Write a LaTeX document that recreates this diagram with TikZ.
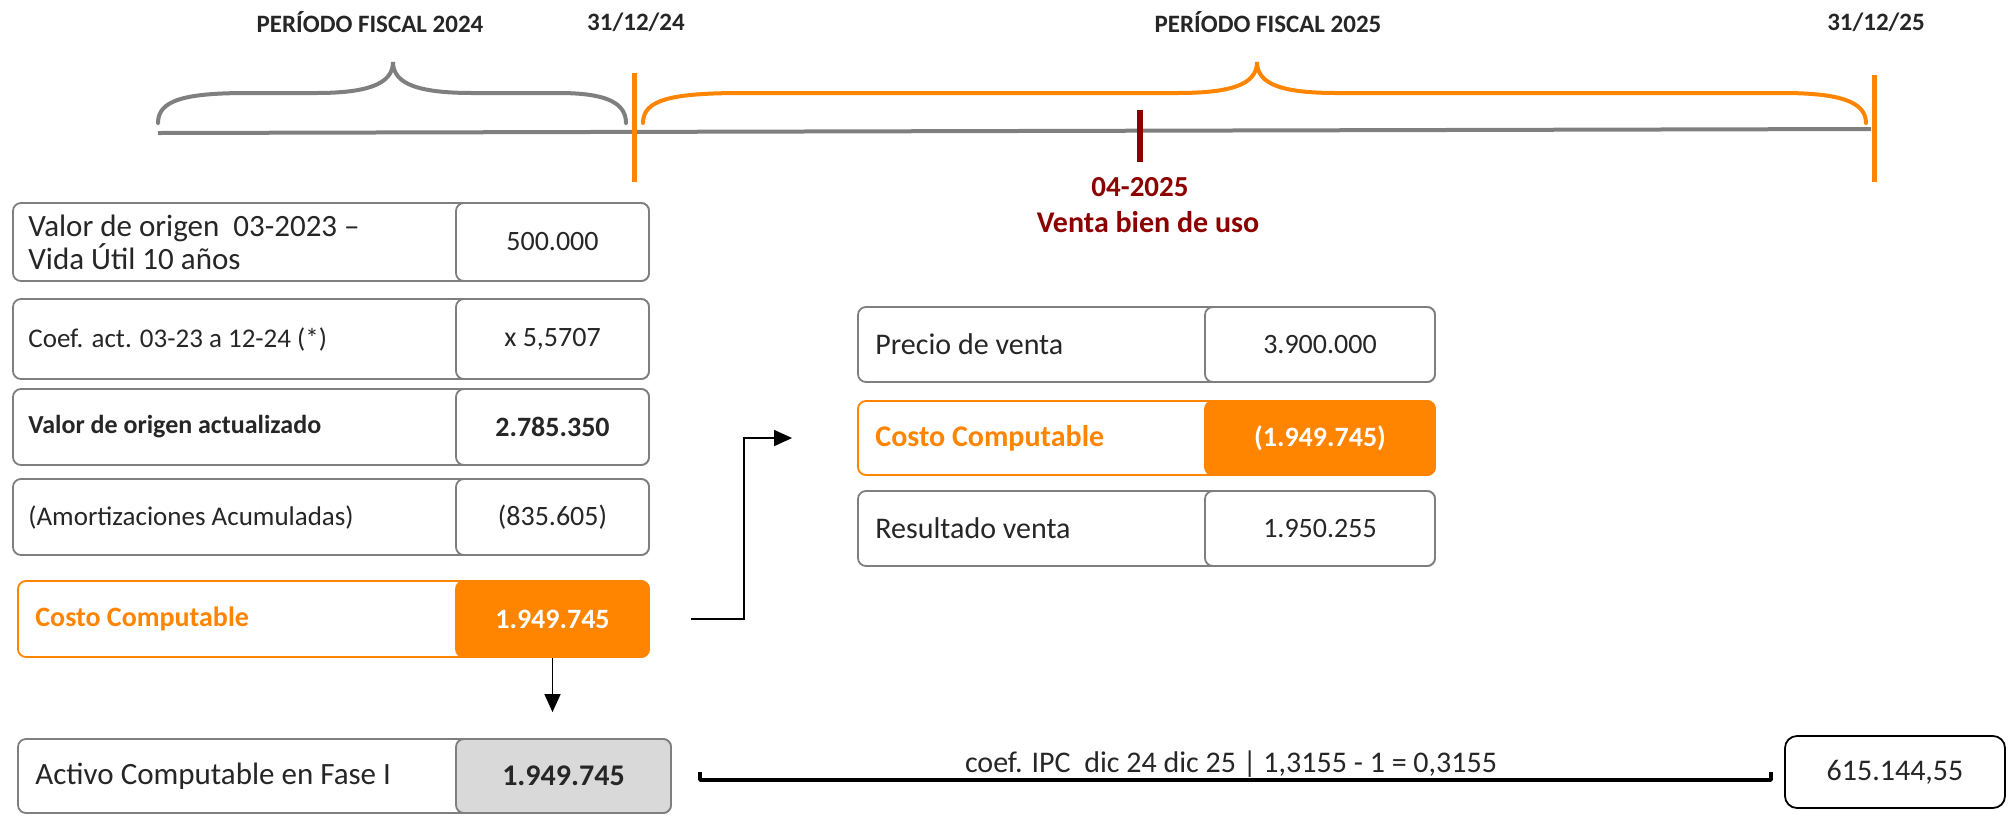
\documentclass[tikz,border=0pt]{standalone}
\usepackage{fontspec}
\setmainfont{Carlito}
\usetikzlibrary{fit,arrows.meta}
\definecolor{orng}{RGB}{255,132,0}
\definecolor{dred}{RGB}{140,0,0}
\definecolor{lgray}{RGB}{127,127,127}
\definecolor{txt}{RGB}{38,38,38}
\definecolor{fillg}{RGB}{217,217,217}
\begin{document}
\begin{tikzpicture}[x=0.5pt,y=-0.5pt,
 box/.style={draw=lgray, line width=0.9pt, rounded corners=4pt, inner sep=0pt, fill=white},
 obox/.style={draw=orng, line width=0.9pt, rounded corners=4pt, inner sep=0pt},
 ofill/.style={fill=orng, draw=orng, line width=0.9pt, rounded corners=4pt, inner sep=0pt},
 gfill/.style={fill=fillg, draw=lgray, line width=0.9pt, rounded corners=4pt, inner sep=0pt},
 rbox/.style={draw=black, line width=0.9pt, rounded corners=6pt, inner sep=0pt},
 lbl/.style={anchor=west, text=txt, font=\fontsize{15}{16.5}\selectfont, align=left, inner sep=0pt},
 slbl/.style={anchor=west, text=txt, font=\fontsize{13.5}{16}\selectfont, inner sep=0pt},
 val/.style={text=txt, font=\fontsize{14}{17}\selectfont, inner sep=0pt},
 hdr/.style={text=txt, font=\fontsize{12.5}{15}\selectfont\bfseries, inner sep=0pt},
 red/.style={text=dred, font=\fontsize{15}{18}\selectfont\bfseries, inner sep=0pt},
 arr/.style={draw=black, line width=0.7pt, -{Triangle[length=9pt,width=8pt]}},
 bar/.style={draw=orng, line width=2.5pt},
 brk/.style={draw=black, line width=1.8pt, line join=round},
]
\useasboundingbox (0,0) rectangle (2015,816);

% ---- timeline ----
\node[hdr] (h1) at (370,22) {PERÍODO FISCAL 2024};
\node[hdr] (h2) at (636,22) {31/12/24};
\node[hdr] (h3) at (1268,22) {PERÍODO FISCAL 2025};
\node[hdr] (h4) at (1876,22) {31/12/25};

\draw[lgray, line width=2pt] (158,133) -- (1871,129);
\draw[lgray, line width=2pt, line cap=round]
  (158,123) .. controls (158,100) and (185,93) .. (248,93) -- (316,93)
  .. controls (365,93) and (393,85) .. (393,62)
  .. controls (393,85) and (421,93) .. (473,93) -- (558,93)
  .. controls (600,93) and (626,100) .. (626,123);
\draw[orng, line width=2pt, line cap=round]
  (643,123) .. controls (643,100) and (670,93) .. (743,93) -- (1177,93)
  .. controls (1230,93) and (1257,85) .. (1257,62)
  .. controls (1257,85) and (1284,93) .. (1337,93) -- (1782,93)
  .. controls (1835,93) and (1866,100) .. (1866,123);
\draw[bar] (634,73) -- (634,182);
\draw[bar] (1874,75) -- (1874,182);
\draw[dred, line width=3pt] (1140,110) -- (1140,162);
\node[red, font=\fontsize{14.5}{17}\selectfont\bfseries] (d1) at (1140,187) {04-2025};
\node[red] (d2) at (1148,222) {Venta bien de uso};

% ---- left column ----
\node[box, fit={(13,203) (649,281)}] (b1) {};
\node[box, fit={(456,203) (649,281)}] (b1v) {};
\node[lbl, font=\fontsize{15.5}{16.5}\selectfont] (b1t) at (28,242) {Valor de origen\ \ 03-2023 –\\Vida Útil 10 años};
\node[val] (b1n) at (b1v) {500.000};

\node[box, fit={(13,299) (649,379)}] (b2) {};
\node[box, fit={(456,299) (649,379)}] (b2v) {};
\node[slbl] (b2t) at (28,339) {Coef. act. 03-23 a 12-24 (*)};
\node[val] (b2n) at (b2v) {x 5,5707};

\node[box, fit={(13,389) (649,465)}] (b3) {};
\node[box, fit={(456,389) (649,465)}] (b3v) {};
\node[slbl, font=\fontsize{13}{16}\selectfont\bfseries] (b3t) at (28,427) {Valor de origen actualizado};
\node[val, font=\fontsize{14}{17}\selectfont\bfseries] (b3n) at (b3v) {2.785.350};

\node[box, fit={(13,479) (649,555)}] (b4) {};
\node[box, fit={(456,479) (649,555)}] (b4v) {};
\node[slbl] (b4t) at (28,517) {(Amortizaciones Acumuladas)};
\node[val] (b4n) at (b4v) {(835.605)};

\node[obox, fit={(18,581) (649,657)}] (b5) {};
\node[ofill, fit={(456,581) (649,657)}] (b5v) {};
\node[slbl, text=orng, font=\fontsize{14}{17}\selectfont\bfseries] (b5t) at (35,619) {Costo Computable};
\node[val, text=white, font=\fontsize{14}{17}\selectfont\bfseries] (b5n) at (b5v) {1.949.745};

\node[box, fit={(18,739) (671,813)}] (b6) {};
\node[gfill, fit={(456,739) (671,813)}] (b6v) {};
\node[lbl, font=\fontsize{15.5}{18}\selectfont] (b6t) at (35,776) {Activo Computable en Fase I};
\node[val, font=\fontsize{15}{18}\selectfont\bfseries] (b6n) at (b6v) {1.949.745};

% ---- right column ----
\node[box, fit={(858,307) (1435,382)}] (r1) {};
\node[box, fit={(1205,307) (1435,382)}] (r1v) {};
\node[lbl] (r1t) at (875,344) {Precio de venta};
\node[val] (r1n) at (r1v) {3.900.000};

\node[obox, fit={(858,401) (1435,475)}] (r2) {};
\node[ofill, fit={(1205,401) (1435,475)}] (r2v) {};
\node[lbl, text=orng, font=\fontsize{15}{18}\selectfont\bfseries] (r2t) at (875,438) {Costo Computable};
\node[val, text=white, font=\fontsize{14}{17}\selectfont\bfseries] (r2n) at (r2v) {(1.949.745)};

\node[box, fit={(858,491) (1435,566)}] (r3) {};
\node[box, fit={(1205,491) (1435,566)}] (r3v) {};
\node[lbl] (r3t) at (875,528) {Resultado venta};
\node[val] (r3n) at (r3v) {1.950.255};

% ---- result ----
\node[rbox, fit={(1785,736) (2005,808)}] (res) {};
\node[val, font=\fontsize{15}{18}\selectfont] (resn) at (res) {615.144,55};

% ---- connectors ----
\draw[arr, shorten >=13pt] (b5v.south) -- (b5v.south |- b6v.north);
\draw[arr, shorten <=20.5pt, shorten >=32.5pt] (b5.east) -- ++(47pt,0) |- (r2.west);
\coordinate (la) at (700,780);
\coordinate (lb) at (1771,780);
\draw[brk] (700,772) -- (la) -- (lb) -- (1771,772);
\node[val, font=\fontsize{15}{18}\selectfont] (coef) at (1231,764) {coef. IPC\ \ dic 24 dic 25 | 1,3155 - 1 = 0,3155};
\end{tikzpicture}
\end{document}
